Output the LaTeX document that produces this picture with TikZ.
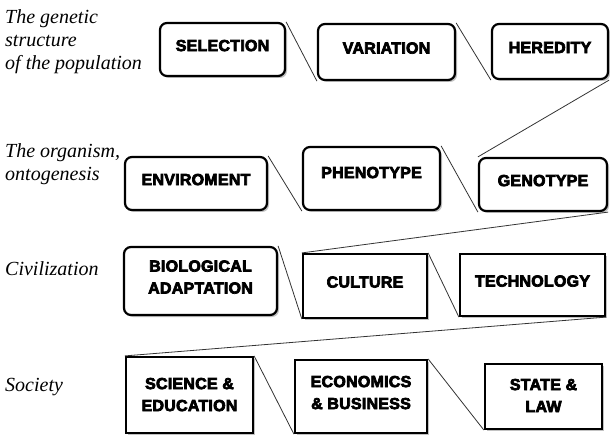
\documentclass[tikz,border=0pt]{standalone}
\usepackage{fontspec}
\setmainfont{Liberation Serif}
\newfontfamily\cajafont{Liberation Sans}[LetterSpace=1.5]
\newcommand{\grueso}{\special{pdf:literal direct 2 Tr 0.7 w}}
\usetikzlibrary{shapes,arrows,positioning,shadows}
\tikzstyle{caja} = [draw=black, fill=white, line width=2.2pt, rectangle, inner sep=0pt, align=center, text depth=8pt, font=\cajafont\bfseries\fontsize{16}{22}\selectfont, execute at begin node=\grueso, drop shadow={shadow xshift=2pt, shadow yshift=-2pt, fill=black!60, opacity=0.4}]
\tikzstyle{redonda} = [caja, rounded corners=7pt]
\tikzstyle{etiqueta} = [anchor=north west, inner sep=0pt, align=left, font=\itshape\fontsize{20}{23}\selectfont]
\tikzstyle{enlace} = [draw=black!80, line width=0.8pt]
\begin{document}
\begin{tikzpicture}[x=1pt, y=-1pt]
					\useasboundingbox (0,0) rectangle (610,438);
					\node[etiqueta] (poblacion) at (5,9) {The genetic\\structure\\of the population};
					\node[etiqueta] (organismo) at (5,143) {The organism,\\ontogenesis};
					\node[etiqueta] (civilizacion) at (5,261) {Civilization};
					\node[etiqueta] (sociedad) at (5,378) {Society};
					\node[redonda, minimum width=125pt, minimum height=53pt] (sel) at (222.5,49.5) {SELECTION};
					\node[redonda, minimum width=137pt, minimum height=56pt] (var) at (386.5,52) {VARIATION};
					\node[redonda, minimum width=116pt, minimum height=55pt] (her) at (550,51.5) {HEREDITY};
					\node[redonda, minimum width=142pt, minimum height=53pt] (env) at (196,183.5) {ENVIROMENT};
					\node[redonda, minimum width=137pt, minimum height=63pt, text depth=12pt] (phe) at (371.5,178.5) {PHENOTYPE};
					\node[redonda, minimum width=128pt, minimum height=53pt] (gen) at (543,184.5) {GENOTYPE};
					\node[redonda, minimum width=153pt, minimum height=68pt] (bio) at (200.5,281) {BIOLOGICAL\\ADAPTATION};
					\node[caja, minimum width=124pt, minimum height=64pt] (cul) at (365,286) {CULTURE};
					\node[caja, minimum width=145pt, minimum height=62pt] (tec) at (532.5,285) {TECHNOLOGY};
					\node[caja, minimum width=127pt, minimum height=76pt, text depth=1pt] (sci) at (189.5,395) {SCIENCE \&\\EDUCATION};
					\node[caja, minimum width=132pt, minimum height=73pt] (eco) at (361,396.5) {ECONOMICS\\\& BUSINESS};
					\node[caja, minimum width=117pt, minimum height=65pt, text depth=2pt] (sta) at (543.5,396.5) {STATE \&\\LAW};
					\draw[enlace] (sel.north east) -- (var.south west);
					\draw[enlace] (var.north east) -- (her.south west);
					\draw[enlace] (her.south east) -- (gen.north west);
					\draw[enlace] (env.north east) -- (phe.south west);
					\draw[enlace] (phe.north east) -- (gen.south west);
					\draw[enlace] (gen.south east) -- (cul.north west);
					\draw[enlace] (bio.north east) -- (cul.south west);
					\draw[enlace] (cul.north east) -- (tec.south west);
					\draw[enlace] (tec.south east) -- (sci.north west);
					\draw[enlace] (sci.north east) -- (eco.south west);
					\draw[enlace] (eco.north east) -- (sta.south west);
					\end{tikzpicture}
\end{document}
